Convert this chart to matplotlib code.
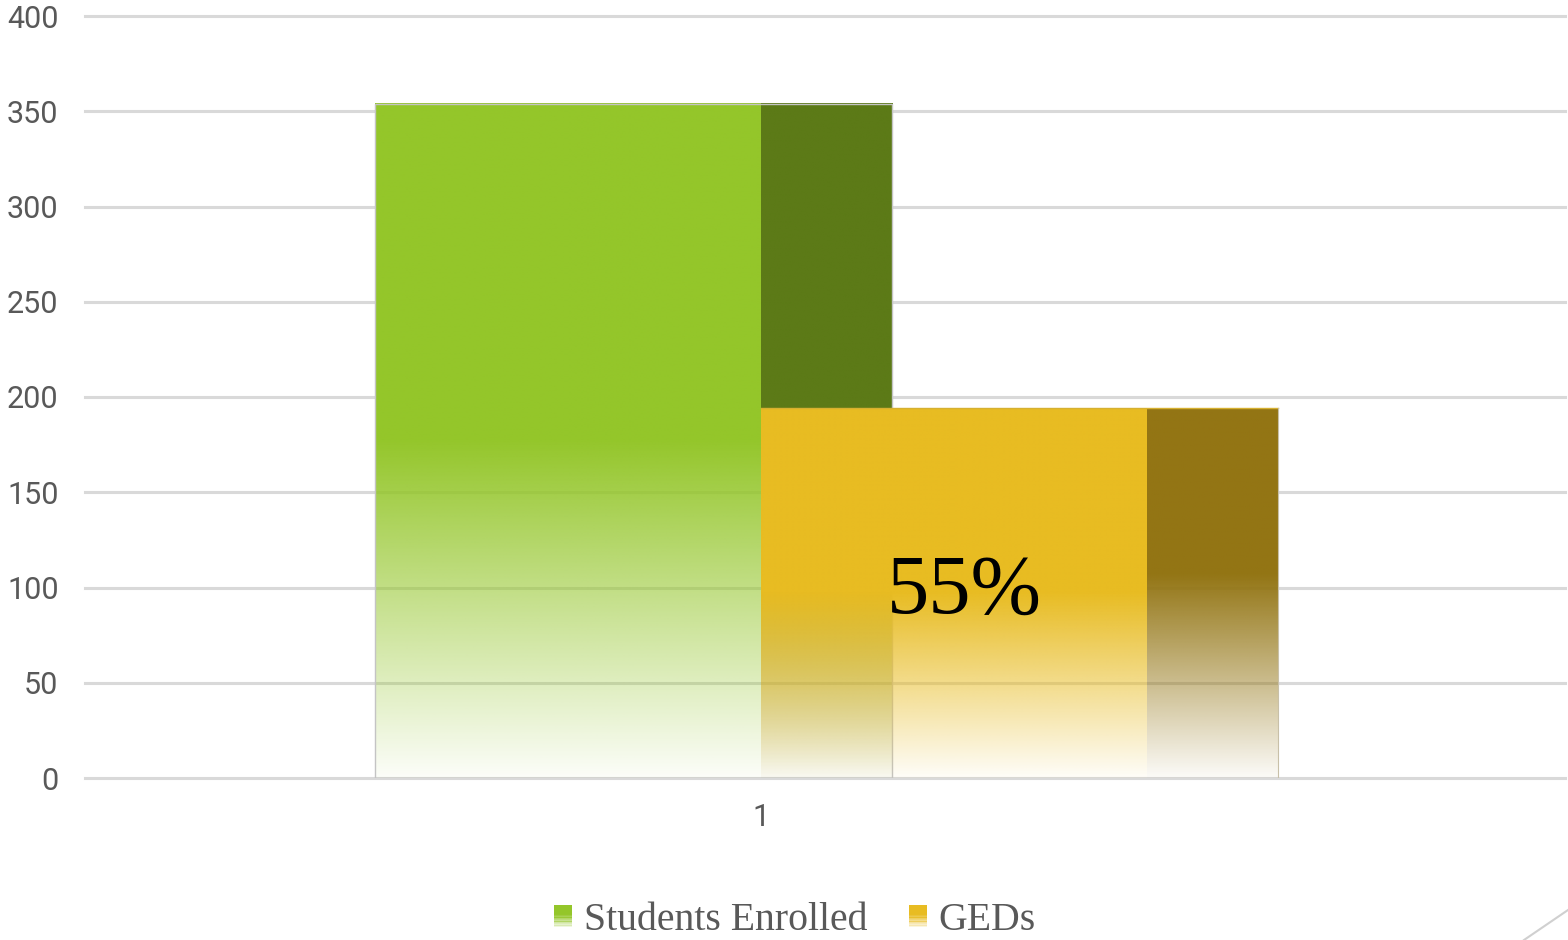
import numpy as np
import matplotlib
matplotlib.use("Agg")
import matplotlib.pyplot as plt
from matplotlib.patches import Rectangle
from matplotlib.lines import Line2D
from matplotlib.legend_handler import HandlerBase

# ---- data ----
categories = ["1"]
series_names = ["Students Enrolled", "GEDs"]
enrolled = [354]
geds = [194]
y_ticks = [0, 50, 100, 150, 200, 250, 300, 350, 400]

# ---- style ----
GREEN_FRONT = (0x94 / 255, 0xC6 / 255, 0x2A / 255)
GREEN_SIDE = (0x5C / 255, 0x7A / 255, 0x17 / 255)
GOLD_FRONT = (0xE8 / 255, 0xBC / 255, 0x22 / 255)
GOLD_SIDE = (0x93 / 255, 0x75 / 255, 0x14 / 255)
TEXT_GRAY = "#595959"
GRID_GRAY = "#d9d9d9"
BAR_W = 0.40
DEPTH = 0.136
LABEL_NUDGE = 0.011


def fade_alpha(frac, solid_from=0.5, floor=0.03):
    """Alpha profile: solid in the upper part, fading to almost clear at the base."""
    return np.clip(floor + (1 - floor) * frac / solid_from, 0, 1)


def gradient_face(ax, x0, x1, top, rgb, z, solid_from=0.5):
    n = 400
    frac = np.linspace(0, 1, n)
    img = np.zeros((n, 1, 4))
    img[..., 0], img[..., 1], img[..., 2] = rgb
    img[:, 0, 3] = fade_alpha(frac, solid_from)
    ax.imshow(img, extent=(x0, x1, 0, top), origin="lower", aspect="auto",
              interpolation="bilinear", zorder=z)


class GradientSwatch(HandlerBase):
    def create_artists(self, legend, orig_handle, xdescent, ydescent,
                       width, height, fontsize, trans):
        rgb = orig_handle.get_facecolor()[:3]
        n = 16
        arts = []
        for i in range(n):
            f = (i + 0.5) / n
            r = Rectangle((-xdescent, -ydescent + i * height / n), width, height / n + 0.2,
                          facecolor=rgb, alpha=float(fade_alpha(f, 0.6, 0.1)),
                          linewidth=0, transform=trans)
            arts.append(r)
        return arts


fig = plt.figure(figsize=(15.68, 9.4), dpi=100)
ax = fig.add_axes([85 / 1568, 162 / 940, 1480 / 1568, 762 / 940])

# gridlines
for t in y_ticks:
    ax.axhline(t, color=GRID_GRAY, lw=2.2, zorder=0, clip_on=False)

xpos = np.arange(len(categories), dtype=float)
for i, x in enumerate(xpos):
    e, g = enrolled[i], geds[i]
    # enrolled bar: front face then side face
    gradient_face(ax, x - BAR_W, x, e, GREEN_FRONT, 2)
    gradient_face(ax, x, x + DEPTH, e, GREEN_SIDE, 2)
    ax.add_patch(Rectangle((x - BAR_W, 0), BAR_W + DEPTH, e, fill=False,
                           edgecolor="#c4c4c4", lw=1.0, zorder=2.5))
    # GED bar in front of it
    gradient_face(ax, x, x + BAR_W, g, GOLD_FRONT, 3)
    gradient_face(ax, x + BAR_W, x + BAR_W + DEPTH, g, GOLD_SIDE, 3, 0.55)
    ax.plot([x, x + BAR_W + DEPTH], [g, g], color="#d6b030", lw=1.0, zorder=3.5)
    ax.plot([x + BAR_W + DEPTH] * 2, [0, g], color="#c8c0a8", lw=0.8, zorder=3.5)
    pct = round(g / e * 100)
    ax.text(x + BAR_W / 2 + LABEL_NUDGE, g / 2, f"{pct}%", ha="center", va="center",
            fontsize=61, family="Liberation Serif", color="black", zorder=5)

ax.set_xlim(-0.7005, 0.8332)
ax.set_ylim(0, 400)
ax.set_yticks(y_ticks)
ax.set_xticks(xpos)
ax.set_xticklabels(categories)
for s in ax.spines.values():
    s.set_visible(False)
ax.tick_params(axis="y", length=0, pad=19, labelsize=22, labelcolor=TEXT_GRAY)
ax.tick_params(axis="x", length=0, pad=18, labelsize=22, labelcolor=TEXT_GRAY)
for lab in ax.get_xticklabels() + ax.get_yticklabels():
    lab.set_family("Roboto")

handles = [Rectangle((0, 0), 1, 1, facecolor=GREEN_FRONT),
           Rectangle((0, 0), 1, 1, facecolor=GOLD_FRONT)]
leg = fig.legend(handles, series_names, loc="center",
                 bbox_to_anchor=(795 / 1568, 1 - 921 / 940), ncol=2, frameon=False,
                 prop={"family": "Liberation Serif", "size": 28.6},
                 handler_map={Rectangle: GradientSwatch()},
                 handlelength=0.45, handleheight=0.45, handletextpad=0.3,
                 columnspacing=1.05, borderpad=0, borderaxespad=0)
for t in leg.get_texts():
    t.set_color(TEXT_GRAY)

# small corner mark
fig.add_artist(Line2D([1524 / 1568, 1.0], [0, 30 / 940], color="#d0d0d0", lw=1.5))

fig.savefig("out.png", dpi=100)
